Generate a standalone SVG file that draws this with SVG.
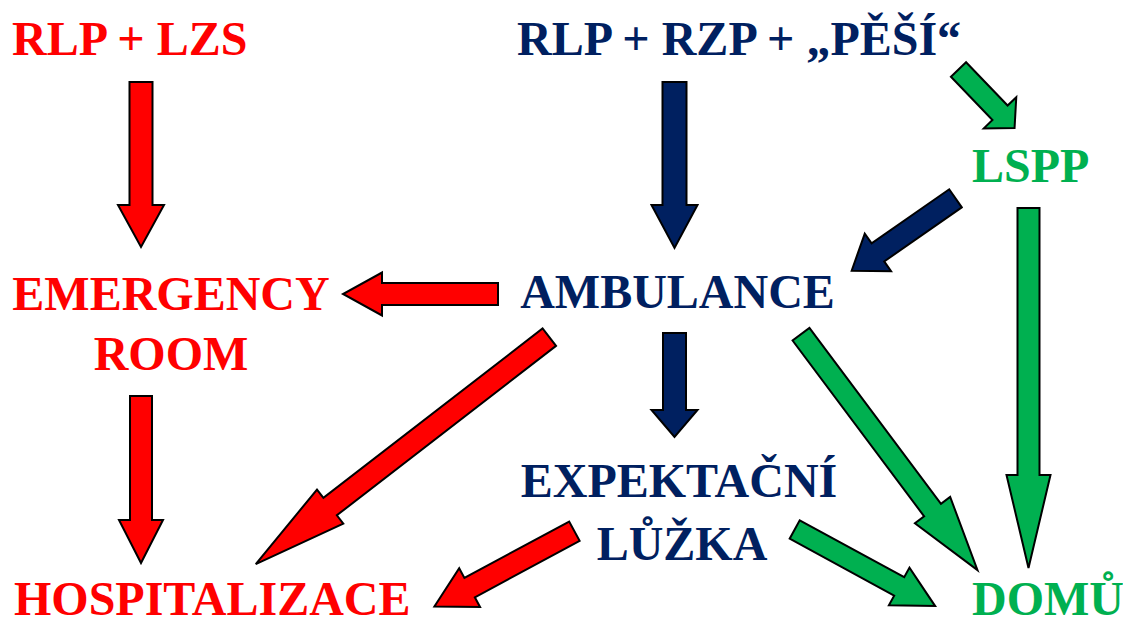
<svg xmlns="http://www.w3.org/2000/svg" width="1123" height="626" viewBox="0 0 1123 626">
<style>
.t{font-weight:700;font-size:48px}
.r{fill:#FF0000}.b{fill:#002060}.g{fill:#00B050}
.a{stroke:#000;stroke-width:2;stroke-linejoin:miter}
</style>
<rect width="1123" height="626" fill="#fff"/>
<g id="connectors">
<polygon class="a r" transform="translate(141,82) rotate(90)" points="0,-11.5 123,-11.5 123,-23 165,0 123,23 123,11.5 0,11.5"/>
<polygon class="a b" transform="translate(674.5,82) rotate(90)" points="0,-12 123,-12 123,-23 166,0 123,23 123,12 0,12"/>
<polygon class="a g" transform="translate(958.5,69.5) rotate(46.2)" points="0,-10.5 60,-10.5 60,-22.5 81,0 60,22.5 60,10.5 0,10.5"/>
<polygon class="a b" transform="translate(955.5,198.3) rotate(145.1)" points="0,-11 94.6,-11 94.6,-23 126.6,0 94.6,23 94.6,11 0,11"/>
<polygon class="a r" transform="translate(498,294) rotate(180)" points="0,-11 116,-11 116,-21.5 155,0 116,21.5 116,11 0,11"/>
<polygon class="a r" transform="translate(141,396) rotate(90)" points="0,-11 124,-11 124,-22 167,0 124,22 124,11 0,11"/>
<polygon class="a r" transform="translate(549.3,337.2) rotate(142.3)" points="0,-11 277,-11 277,-21.5 371,0 277,21.5 277,11 0,11"/>
<polygon class="a b" transform="translate(674.5,333) rotate(90)" points="0,-11.5 77,-11.5 77,-23 104,0 77,23 77,11.5 0,11.5"/>
<polygon class="a g" transform="translate(801,334.2) rotate(53.2)" points="0,-10.5 219.6,-10.5 219.6,-22 294.6,0 219.6,22 219.6,10.5 0,10.5"/>
<polygon class="a g" transform="translate(1028.5,208) rotate(90)" points="0,-11 267,-11 267,-22 360,0 267,22 267,11 0,11"/>
<polygon class="a r" transform="translate(574.4,531.2) rotate(151.7)" points="0,-11 119,-11 119,-22 159,0 119,22 119,11 0,11"/>
<polygon class="a g" transform="translate(794.7,529.5) rotate(28.6)" points="0,-10.5 119,-10.5 119,-21.5 160,0 119,21.5 119,10.5 0,10.5"/>
</g>
<g id="rlp-lzs"><text class="t r" font-family="Liberation Serif, serif" x="12" y="55">RLP + LZS</text></g>
<g id="rlp-rzp"><text class="t b" font-family="Liberation Serif, serif" x="517" y="55">RLP + RZP + „PĚŠÍ“</text></g>
<g id="lspp"><text class="t g" font-family="Liberation Serif, serif" x="972" y="182">LSPP</text></g>
<g id="emergency"><text class="t r" font-family="Liberation Serif, serif" x="171" y="310" text-anchor="middle">EMERGENCY</text><text class="t r" font-family="Liberation Serif, serif" x="171" y="370" text-anchor="middle">ROOM</text></g>
<g id="ambulance"><text class="t b" font-family="Liberation Serif, serif" x="677.5" y="308" text-anchor="middle">AMBULANCE</text></g>
<g id="expektacni"><text class="t b" font-family="Liberation Serif, serif" x="679" y="497" text-anchor="middle">EXPEKTAČNÍ</text><text class="t b" font-family="Liberation Serif, serif" x="682" y="560" text-anchor="middle">LŮŽKA</text></g>
<g id="hospitalizace"><text class="t r" font-family="Liberation Serif, serif" x="14" y="615">HOSPITALIZACE</text></g>
<g id="domu"><text class="t g" font-family="Liberation Serif, serif" x="972" y="615">DOMŮ</text></g>
</svg>
